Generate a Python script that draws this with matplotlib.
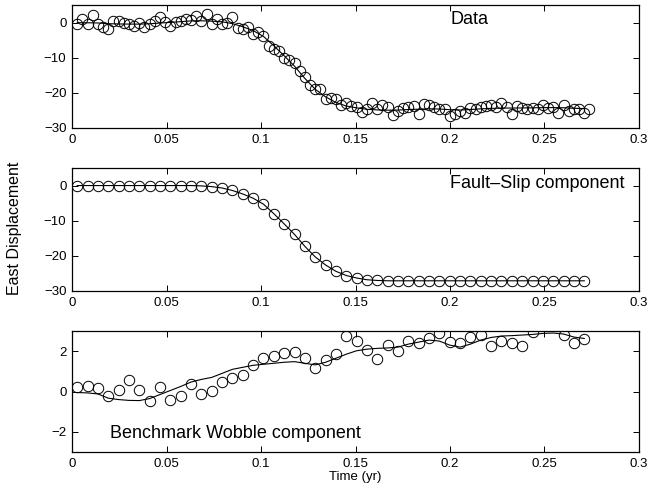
import numpy as np
import matplotlib
matplotlib.use('Agg')
import matplotlib.pyplot as plt

plt.rcParams['font.family'] = ['Liberation Sans', 'DejaVu Sans']
plt.rcParams['font.size'] = 9.5

# time: daily samples (yr) for the data, every other day for the components
day = np.arange(1, 101)
t_data = day / 365.25
t_comp = t_data[::2]

# east displacement, daily GPS positions
data_east = [-0.3, 1.0, -0.3, 2.1, -0.3, -1.4, -1.7, 0.4, 0.4, 0.0,
             -0.3, -1.0, 0.0, -1.4, -0.3, 0.4, 1.6, 0.2, -1.0, 0.2,
             0.4, 1.0, 0.7, 1.9, 0.5, 2.4, -0.3, 1.0, -0.3, 0.0,
             1.6, -1.5, -1.7, -1.2, -3.2, -2.7, -3.8, -6.8, -7.5, -8.0,
             -10.2, -10.8, -11.5, -13.7, -15.6, -17.8, -18.8, -19.0, -21.8, -21.4,
             -21.8, -23.6, -22.8, -23.8, -24.0, -25.5, -24.7, -23.0, -24.5, -23.6,
             -23.9, -26.4, -25.2, -24.2, -23.9, -23.8, -25.9, -23.3, -23.6, -23.9,
             -24.5, -24.7, -26.6, -26.1, -25.2, -25.7, -24.2, -24.7, -23.9, -23.8,
             -23.6, -23.9, -23.0, -23.9, -26.1, -23.8, -24.2, -24.7, -24.2, -24.7,
             -23.6, -24.2, -23.9, -25.7, -23.6, -25.2, -24.7, -24.5, -25.7, -24.5]

# fault-slip component (every other day)
fault_slip = [0, 0, 0, 0, 0, 0, 0, 0, 0, 0,
              0, 0, -0.1, -0.3, -0.7, -1.4, -2.4, -3.6, -5.3, -8.0,
              -10.9, -13.9, -17.3, -20.3, -22.6, -24.4, -25.6, -26.3, -26.8, -27.0,
              -27.1, -27.1, -27.1, -27.1, -27.1, -27.1, -27.1, -27.1, -27.1, -27.1,
              -27.1, -27.1, -27.1, -27.1, -27.1, -27.1, -27.1, -27.1, -27.1, -27.1]

# benchmark wobble: observed residuals and smooth model
wobble_obs = [0.21, 0.26, 0.16, -0.2, 0.08, 0.59, 0.08, -0.49, 0.21, -0.4,
              -0.23, 0.38, -0.12, 0.05, 0.46, 0.66, 0.84, 1.32, 1.66, 1.76,
              1.89, 1.98, 1.66, 1.15, 1.56, 1.86, 2.77, 2.52, 2.07, 1.61,
              2.3, 2.02, 2.49, 2.4, 2.65, 2.9, 2.43, 2.4, 2.72, 2.8,
              2.27, 2.52, 2.4, 2.24, 2.93, 3.4, 3.4, 2.81, 2.4, 2.6]
wobble_fit = [-0.05, -0.07, -0.12, -0.33, -0.4, -0.44, -0.45, -0.35, -0.15, 0.05,
              0.25, 0.47, 0.6, 0.7, 0.9, 1.1, 1.2, 1.3, 1.35, 1.4,
              1.45, 1.48, 1.4, 1.32, 1.45, 1.65, 1.85, 2.02, 2.1, 2.14,
              2.16, 2.2, 2.35, 2.45, 2.55, 2.5, 2.3, 2.2, 2.35, 2.55,
              2.68, 2.75, 2.77, 2.8, 2.83, 2.88, 2.9, 2.85, 2.7, 2.63]

xticks = [0, 0.05, 0.1, 0.15, 0.2, 0.25, 0.3]
xticklabels = ['0', '0.05', '0.1', '0.15', '0.2', '0.25', '0.3']

fig = plt.figure(figsize=(6.67, 4.97), dpi=100)
ax1 = fig.add_axes([0.108, 0.7425, 0.850, 0.2475])
ax2 = fig.add_axes([0.108, 0.4145, 0.850, 0.2475])
ax3 = fig.add_axes([0.108, 0.0905, 0.850, 0.2435])

mk = dict(marker='o', markersize=7.5, markerfacecolor='none',
          markeredgecolor='black', markeredgewidth=0.7, linestyle='none')

model_total = np.array(fault_slip) + np.array(wobble_fit)
ax1.plot(t_comp, model_total, color='black', linewidth=0.8)
ax1.plot(t_data, data_east, **mk)
ax1.set_ylim(-30, 5)
ax1.set_yticks([0, -10, -20, -30])
ax1.text(0.2, 1.0, 'Data', fontsize=13, va='center', ha='left')

ax2.plot(t_comp, fault_slip, color='black', linewidth=0.8)
ax2.plot(t_comp, fault_slip, **mk)
ax2.set_ylim(-30, 5)
ax2.set_yticks([0, -10, -20, -30])
ax2.text(0.2, 0.7, 'Fault\u2013Slip component', fontsize=13, va='center', ha='left')

ax3.plot(t_comp, wobble_fit, color='black', linewidth=0.8)
ax3.plot(t_comp, wobble_obs, **mk)
ax3.set_ylim(-3, 3)
ax3.set_yticks([-2, 0, 2])
ax3.text(0.02, -2.1, 'Benchmark Wobble component', fontsize=13, va='center', ha='left')
ax3.set_xlabel('Time (yr)', fontsize=9.5, labelpad=1)

for ax in (ax1, ax2, ax3):
    ax.set_xlim(0, 0.3)
    ax.set_xticks(xticks)
    ax.set_xticklabels(xticklabels)
    ax.tick_params(direction='in', top=True, right=True, length=4, width=0.7, pad=4)
    for s in ax.spines.values():
        s.set_linewidth(0.9)

fig.text(0.022, 0.54, 'East Displacement', rotation=90, va='center', ha='center',
         fontsize=11.5)

fig.savefig('out.png', dpi=100)
